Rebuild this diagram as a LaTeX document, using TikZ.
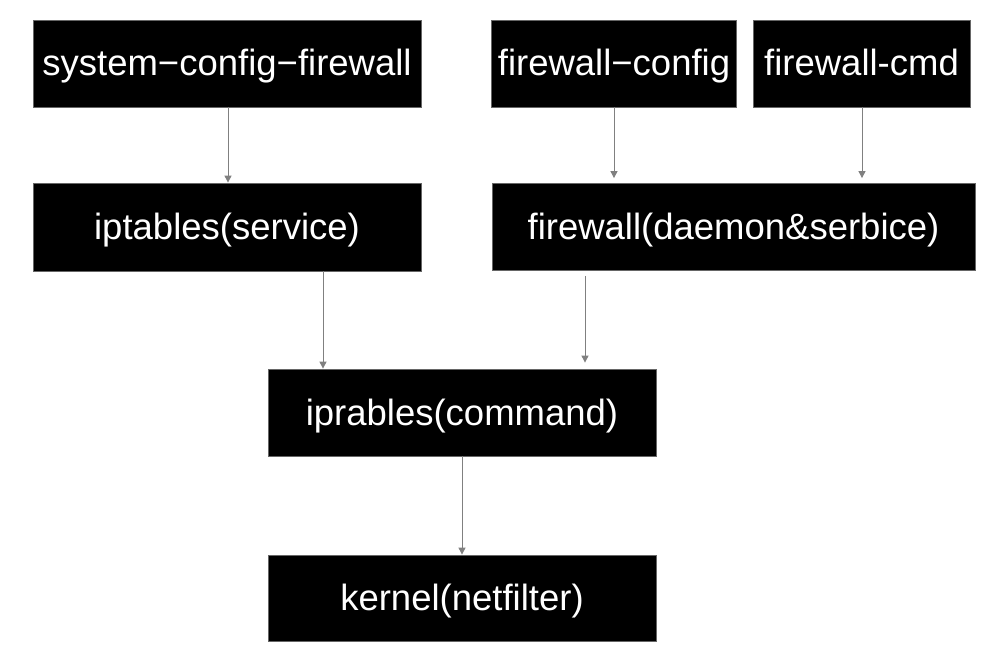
\documentclass[tikz,border=0pt]{standalone}
\usepackage{fontspec}
\setmainfont{Liberation Sans}
\usetikzlibrary{arrows.meta}
\begin{document}
\begin{tikzpicture}[x=1pt,y=-1pt,
  box/.style={fill=black,draw=black!60,line width=0.8pt,inner sep=0pt,text=white,
    text height=25pt,text depth=0pt,
    font=\fontsize{36.5}{40}\selectfont,anchor=center},
  conn/.style={draw=black!50,line width=1pt,-{Triangle[length=7pt,width=7pt]}}]
\useasboundingbox (0,0) rectangle (1005,671);
\fill[white] (0,0) rectangle (1005,671);
\node[box,minimum width=388pt,minimum height=87pt] (b1) at (227,63.5) {system−config−firewall};
\node[box,minimum width=245pt,minimum height=87pt] (b2) at (614,63.5) {firewall−config};
\node[box,minimum width=217pt,minimum height=87pt] (b3) at (861.5,63.5) {firewall-cmd};
\node[box,minimum width=388pt,minimum height=88pt] (b4) at (227,227) {iptables(service)};
\node[box,minimum width=483pt,minimum height=87pt] (b5) at (733.5,227) {firewall(daemon\&serbice)};
\node[box,minimum width=388pt,minimum height=87pt] (b6) at (462,412.5) {iprables(command)};
\node[box,minimum width=388pt,minimum height=86pt] (b7) at (462,598) {kernel(netfilter)};
\draw[conn] ([xshift=1pt]b1.south) -- ([xshift=1pt]b1.south |- b4.north);
\draw[conn,shorten >=5pt] (b2.south) -- (b2.south |- b5.north);
\draw[conn,shorten >=5pt] ([xshift=0.5pt]b3.south) -- ([xshift=0.5pt]b3.south |- b5.north);
\draw[conn] ([xshift=96pt]b4.south) -- ([xshift=96pt]b4.south |- b6.north);
\draw[conn,shorten <=5pt,shorten >=6pt] ([xshift=-148.5pt]b5.south) -- ([xshift=-148.5pt]b5.south |- b6.north);
\draw[conn] (b6.south) -- (b7.north);
\end{tikzpicture}
\end{document}
